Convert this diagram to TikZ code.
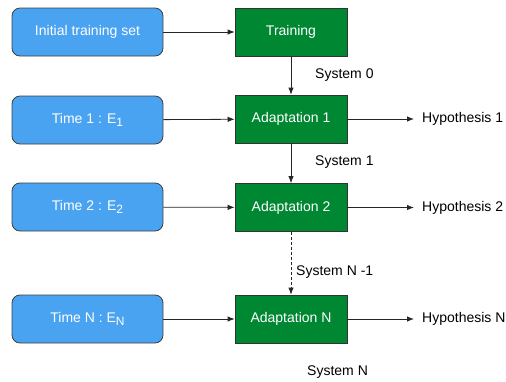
\documentclass[tikz,border=0pt]{standalone}
\usepackage{fontspec}
\setmainfont{Liberation Sans}
\usetikzlibrary{arrows.meta}
\definecolor{bluef}{RGB}{74,163,240}
\definecolor{greenf}{RGB}{0,135,50}
\newcommand{\subE}[1]{E\raisebox{-0.45ex}{\fontsize{12}{12}\selectfont #1}}
\begin{document}
\begin{tikzpicture}[x=1pt,y=-1pt, font=\fontsize{14}{16}\selectfont,
 src/.style={draw=black!75, fill=bluef, rounded corners=8pt, minimum width=151pt, minimum height=48pt, text=white, inner sep=0pt, line width=0.8pt},
 ada/.style={draw=black!80, fill=greenf, minimum width=112pt, minimum height=48pt, text=white, inner sep=0pt, line width=0.8pt},
 arr/.style={draw=black!85, line width=0.8pt, -{Latex[length=7pt,width=5.5pt]}},
 hyp/.style={anchor=west, inner xsep=8pt, inner ysep=0pt},
 lbl/.style={anchor=west, inner sep=0pt}]
\useasboundingbox (0,0) rectangle (506,381);
\node[src] (b1) at (87.5,32) {Initial training set};
\node[src] (b2) at (87.5,120) {Time 1 : \subE{1}};
\node[src] (b3) at (87.5,207) {Time 2 : \subE{2}};
\node[src] (b4) at (87.5,319) {Time N : \subE{N}};
\node[ada] (g1) at (291,32) {Training};
\node[ada] (g2) at (291,119) {Adaptation 1};
\node[ada] (g3) at (291,207.5) {Adaptation 2};
\node[ada] (g4) at (291,319) {Adaptation N};
\node[hyp] (h1) at (414,119) {Hypothesis 1};
\node[hyp] (h2) at (414,207.5) {Hypothesis 2};
\node[hyp] (h3) at (414,319) {Hypothesis N};
\node[lbl] (s0) at (315,75) {System 0};
\node[lbl] (s1) at (315,162) {System 1};
\node[lbl] (s2) at (296,272) {System N -1};
\node[lbl] (s3) at (307,372) {System N};
\draw[arr] (b1) -- (g1);
\draw[arr] (b2) -- (g2);
\draw[arr] (b3) -- (g3);
\draw[arr] (b4) -- (g4);
\draw[arr] (g1) -- (g2);
\draw[arr] (g2) -- (g3);
\draw[arr, dashed, dash pattern=on 3pt off 2pt] (g3) -- (g4);
\draw[arr] (g2) -- (h1);
\draw[arr] (g3) -- (h2);
\draw[arr] (g4) -- (h3);
\end{tikzpicture}
\end{document}
